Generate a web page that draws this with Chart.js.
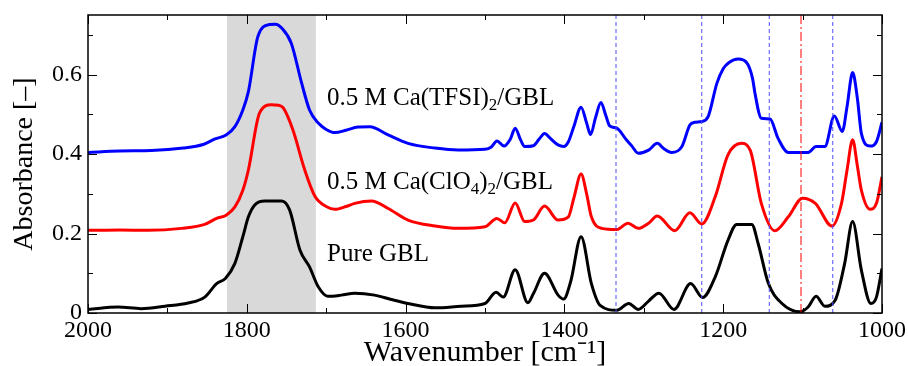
<!DOCTYPE html>
<html>
<head>
<meta charset="utf-8">
<script src="https://cdn.jsdelivr.net/npm/chart.js@4"></script>
<style>
  html, body { margin: 0; padding: 0; background: #fff; }
  #wrap { width: 908px; height: 366px; }
</style>
</head>
<body>
<div id="wrap"><canvas id="spectra" width="908" height="366"></canvas></div>
<script>
// Wavenumber / absorbance readings, one pair of arrays per spectrum
const tfsiWn = [2000, 1960, 1920, 1880, 1855, 1840, 1826, 1815, 1805, 1798, 1786, 1771, 1764, 1756, 1744, 1731, 1721, 1710, 1700, 1689, 1675, 1660, 1645, 1622, 1597, 1563, 1534, 1500, 1492, 1485, 1476, 1468, 1462, 1455, 1450, 1439, 1432, 1425, 1418, 1408, 1401, 1395, 1388, 1379, 1372, 1367, 1361, 1354, 1348, 1343, 1334, 1322, 1315, 1307, 1294, 1283, 1275, 1265, 1252, 1242, 1236, 1227, 1219, 1208, 1200, 1193, 1181, 1170, 1163, 1160, 1152, 1141, 1131, 1118, 1093, 1083, 1072, 1060, 1050, 1044, 1037, 1031, 1026, 1015, 1007, 1000];
const tfsiAbs = [0.404, 0.408, 0.409, 0.415, 0.424, 0.438, 0.448, 0.469, 0.511, 0.557, 0.696, 0.726, 0.727, 0.717, 0.679, 0.579, 0.511, 0.478, 0.462, 0.454, 0.460, 0.468, 0.469, 0.448, 0.427, 0.415, 0.410, 0.412, 0.418, 0.433, 0.420, 0.438, 0.465, 0.435, 0.419, 0.421, 0.437, 0.452, 0.440, 0.423, 0.419, 0.431, 0.470, 0.518, 0.478, 0.449, 0.490, 0.530, 0.498, 0.471, 0.465, 0.436, 0.420, 0.402, 0.410, 0.427, 0.414, 0.404, 0.419, 0.473, 0.480, 0.482, 0.494, 0.578, 0.615, 0.630, 0.639, 0.629, 0.590, 0.553, 0.490, 0.488, 0.440, 0.404, 0.404, 0.419, 0.419, 0.496, 0.457, 0.520, 0.605, 0.540, 0.452, 0.420, 0.431, 0.480];

const clo4Wn = [2000, 1960, 1925, 1882, 1853, 1838, 1826, 1815, 1805, 1798, 1784, 1769, 1760, 1754, 1742, 1727, 1714, 1700, 1689, 1675, 1664, 1643, 1622, 1597, 1563, 1534, 1500, 1485, 1475, 1462, 1450, 1439, 1425, 1408, 1395, 1388, 1379, 1372, 1366, 1353, 1334, 1320, 1307, 1294, 1283, 1261, 1242, 1227, 1210, 1194, 1177, 1166, 1152, 1135, 1118, 1100, 1084, 1063, 1051, 1044, 1037, 1031, 1026, 1015, 1007, 1000];
const clo4Abs = [0.208, 0.209, 0.208, 0.213, 0.223, 0.238, 0.246, 0.267, 0.309, 0.360, 0.503, 0.524, 0.523, 0.516, 0.461, 0.360, 0.293, 0.268, 0.261, 0.268, 0.276, 0.282, 0.263, 0.234, 0.219, 0.213, 0.217, 0.238, 0.227, 0.277, 0.230, 0.234, 0.269, 0.234, 0.242, 0.290, 0.350, 0.300, 0.242, 0.213, 0.210, 0.226, 0.213, 0.226, 0.244, 0.207, 0.252, 0.224, 0.293, 0.398, 0.427, 0.410, 0.276, 0.207, 0.242, 0.289, 0.276, 0.219, 0.276, 0.360, 0.436, 0.370, 0.309, 0.261, 0.276, 0.343];

const gblWn = [2000, 1962, 1933, 1903, 1874, 1853, 1838, 1827, 1815, 1805, 1798, 1790, 1777, 1756, 1746, 1733, 1721, 1710, 1698, 1681, 1664, 1639, 1618, 1597, 1563, 1530, 1500, 1486, 1477, 1462, 1446, 1439, 1425, 1408, 1401, 1392, 1379, 1366, 1355, 1334, 1319, 1307, 1294, 1281, 1262, 1241, 1226, 1210, 1194, 1183, 1164, 1156, 1143, 1126, 1103, 1093, 1083, 1072, 1059, 1047, 1037, 1026, 1014, 1007, 1000];
const gblAbs = [0.009, 0.015, 0.011, 0.017, 0.025, 0.040, 0.074, 0.087, 0.125, 0.192, 0.242, 0.272, 0.282, 0.282, 0.259, 0.158, 0.116, 0.066, 0.042, 0.045, 0.050, 0.045, 0.034, 0.024, 0.013, 0.017, 0.024, 0.052, 0.040, 0.109, 0.026, 0.049, 0.100, 0.045, 0.035, 0.080, 0.192, 0.074, 0.019, 0.007, 0.024, 0.009, 0.030, 0.050, 0.009, 0.074, 0.039, 0.091, 0.183, 0.223, 0.223, 0.175, 0.074, 0.024, 0.003, 0.015, 0.042, 0.017, 0.032, 0.125, 0.230, 0.108, 0.024, 0.040, 0.112];

// Carbonyl band and marker lines
const bandRange = [1825, 1713];
const blueMarkers = [1335, 1227, 1142, 1062];
const redMarkers = [1102];

// Axis ticks
const xMajor = [2000, 1800, 1600, 1400, 1200, 1000];
const xMinor = [1900, 1700, 1500, 1300, 1100];
const yMajor = [0, 0.2, 0.4, 0.6];
const yMinor = [0.1, 0.3, 0.5, 0.7];

const yMax = 0.75;

// Series labels (text, anchor wavenumber, baseline absorbance)
const seriesLabels = [
    { pre: '0.5 M Ca(TFSI)', sub: '2', post: '/GBL', wn: 1699, abs: 0.524 },
    { pre: '0.5 M Ca(ClO', sub: '4', mid: ')', sub2: '2', post: '/GBL', wn: 1699, abs: 0.311 },
    { pre: 'Pure GBL', wn: 1699, abs: 0.13 }
];

const serif = "'Liberation Serif', 'Times New Roman', serif";

function toPoints(xs, ys) {
    return xs.map((x, i) => ({ x: x, y: ys[i] }));
}

function markerDataset(wn, color, dash) {
    return {
        data: [{ x: wn, y: 0 }, { x: wn, y: yMax }],
        borderColor: color,
        borderWidth: 1,
        borderDash: dash,
        pointRadius: 0,
        fill: false
    };
}

// Gray band behind everything
const bandPlugin = {
    id: 'band',
    beforeDatasetsDraw(chart) {
        const { ctx, chartArea, scales } = chart;
        const x1 = scales.x.getPixelForValue(bandRange[0]);
        const x2 = scales.x.getPixelForValue(bandRange[1]);
        ctx.save();
        ctx.fillStyle = '#d9d9d9';
        ctx.fillRect(x1, chartArea.top, x2 - x1, chartArea.bottom - chartArea.top);
        ctx.restore();
    }
};

// Frame, inward ticks and series labels
const framePlugin = {
    id: 'frame',
    afterDraw(chart) {
        const { ctx, chartArea: a, scales } = chart;
        ctx.save();
        ctx.strokeStyle = '#000';
        ctx.lineWidth = 1.5;
        ctx.strokeRect(a.left, a.top, a.right - a.left, a.bottom - a.top);

        ctx.lineWidth = 1;
        ctx.beginPath();
        const xt = (list, len) => list.forEach(v => {
            const px = Math.round(scales.x.getPixelForValue(v)) + 0.5;
            ctx.moveTo(px, a.bottom); ctx.lineTo(px, a.bottom - len);
            ctx.moveTo(px, a.top); ctx.lineTo(px, a.top + len);
        });
        const yt = (list, len) => list.forEach(v => {
            const py = Math.round(scales.y.getPixelForValue(v)) + 0.5;
            ctx.moveTo(a.left, py); ctx.lineTo(a.left + len, py);
            ctx.moveTo(a.right, py); ctx.lineTo(a.right - len, py);
        });
        xt(xMajor, 9); xt(xMinor, 5);
        yt(yMajor, 9); yt(yMinor, 5);
        ctx.stroke();

        // labels with subscripts
        ctx.fillStyle = '#000';
        ctx.textBaseline = 'alphabetic';
        ctx.textAlign = 'left';
        const big = '25px ' + serif;
        const small = '17px ' + serif;
        seriesLabels.forEach(l => {
            let x = scales.x.getPixelForValue(l.wn);
            const y = scales.y.getPixelForValue(l.abs);
            const part = (txt, font, dy) => {
                if (!txt) return;
                ctx.font = font;
                ctx.fillText(txt, x, y + dy);
                x += ctx.measureText(txt).width;
            };
            part(l.pre, big, 0);
            part(l.sub, small, 5);
            part(l.mid, big, 0);
            part(l.sub2, small, 5);
            part(l.post, big, 0);
        });
        ctx.restore();
    }
};

new Chart(document.getElementById('spectra'), {
    type: 'line',
    data: {
        datasets: [
            ...blueMarkers.map(w => markerDataset(w, '#4d4dff', [4, 3])),
            ...redMarkers.map(w => markerDataset(w, '#ff0000', [9, 3, 2, 3])),
            {
                label: 'Pure GBL',
                data: toPoints(gblWn, gblAbs),
                borderColor: '#000000',
                borderWidth: 3,
                pointRadius: 0,
                cubicInterpolationMode: 'monotone'
            },
            {
                label: '0.5 M Ca(ClO4)2/GBL',
                data: toPoints(clo4Wn, clo4Abs),
                borderColor: '#ff0000',
                borderWidth: 3,
                pointRadius: 0,
                cubicInterpolationMode: 'monotone'
            },
            {
                label: '0.5 M Ca(TFSI)2/GBL',
                data: toPoints(tfsiWn, tfsiAbs),
                borderColor: '#0000ff',
                borderWidth: 3,
                pointRadius: 0,
                cubicInterpolationMode: 'monotone'
            }
        ]
    },
    options: {
        responsive: false,
        animation: false,
        layout: {
            padding: { top: 15, right: 26, left: 0, bottom: 0 }
        },
        plugins: {
            legend: { display: false },
            tooltip: { enabled: false }
        },
        scales: {
            x: {
                type: 'linear',
                reverse: true,
                min: 1000,
                max: 2000,
                afterFit: s => { s.height = 53; s.paddingLeft = 0; s.paddingRight = 0; },
                afterBuildTicks: s => { s.ticks = xMajor.map(v => ({ value: v })); },
                grid: { display: false, drawTicks: false },
                border: { display: false },
                ticks: {
                    color: '#000',
                    padding: 3,
                    maxRotation: 0,
                    font: { family: serif, size: 24 },
                    callback: v => String(v)
                },
                title: {
                    display: true,
                    text: 'Wavenumber [cm⁻¹]',
                    color: '#000',
                    padding: { top: 0, bottom: -2 },
                    font: { family: serif, size: 30, lineHeight: 1 }
                }
            },
            y: {
                min: 0,
                max: yMax,
                afterFit: s => { s.width = 88; s.paddingTop = 0; s.paddingBottom = 0; },
                afterBuildTicks: s => { s.ticks = yMajor.map(v => ({ value: v })); },
                grid: { display: false, drawTicks: false },
                border: { display: false },
                ticks: {
                    color: '#000',
                    padding: 6,
                    font: { family: serif, size: 24 },
                    callback: v => String(v)
                },
                title: {
                    display: true,
                    text: 'Absorbance [–]',
                    color: '#000',
                    padding: { top: 8, bottom: 0 },
                    font: { family: serif, size: 28 }
                }
            }
        }
    },
    plugins: [bandPlugin, framePlugin]
});
</script>
</body>
</html>
